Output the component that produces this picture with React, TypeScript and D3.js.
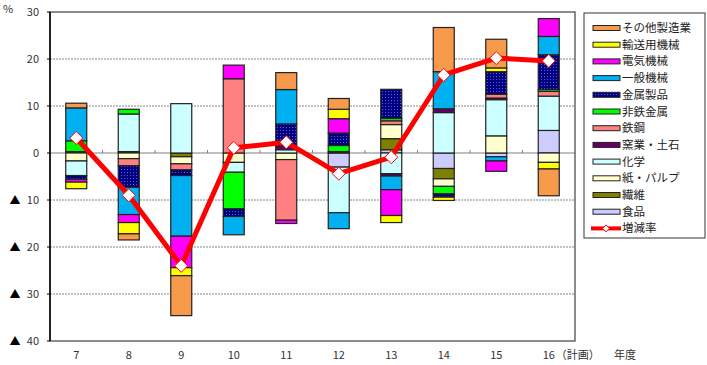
import React from 'react';
import * as d3 from 'd3';

const years = ['7', '8', '9', '10', '11', '12', '13', '14', '15', '16'];

// 寄与度 (%), 系列順 = 積み上げ順（食品が0に近い側）
const food = [0, 0, 0, 0, 0, -3.0, 0.7, -3.3, -0.8, 4.8];
const textile = [0.3, 0.3, -0.8, 0, 0, 0, 2.35, -2.2, 0, 0];
const paper = [-1.7, -1.2, -1.5, -2.0, -1.4, 0, 3.0, -1.6, 3.65, -2.0];
const chemical = [-3.1, 8.0, 10.5, -2.1, 0.7, -9.7, -4.4, 8.6, 7.7, 7.3];
const ceramic = [0, 0, 0, 0, 0.7, 0.3, -0.5, 0.8, 0.35, 0];
const steel = [0, -1.5, -1.3, 15.8, -12.9, 0, 0.8, 0, 0.8, 1.0];
const nonferrous = [2.3, 1.0, 0, -7.8, 0, 1.3, 0.5, -1.6, 0, 0.4];
const metal = [-0.8, -4.6, -1.2, -1.6, 4.8, 2.65, 6.2, -0.7, 4.8, 7.4];
const machinery = [7.0, -5.8, -12.9, -3.9, 7.3, -3.4, -2.9, 7.9, -0.9, 3.9];
const electrical = [-0.6, -1.7, -6.7, 2.9, -0.7, 3.05, -5.5, 0, -2.2, 3.8];
const transport = [-1.4, -2.4, -1.7, 0, 0, 2.0, -1.5, -0.7, 0.8, -1.4];
const other = [1.0, -1.3, -8.5, 0, 3.6, 2.3, 0, 9.4, 6.1, -5.7];

const growth = [3.2, -9.0, -24.0, 1.1, 2.3, -4.4, -0.9, 16.6, 20.2, 19.6];

const yTicks = [30, 20, 10, 0, -10, -20, -30, -40];

const series = [
  { name: '食品', values: food, color: '#CCCCFF' },
  { name: '繊維', values: textile, color: '#808000' },
  { name: '紙・パルプ', values: paper, color: '#FFFFCC' },
  { name: '化学', values: chemical, color: '#CCFFFF' },
  { name: '窯業・土石', values: ceramic, color: '#660066' },
  { name: '鉄鋼', values: steel, color: '#FF8080' },
  { name: '非鉄金属', values: nonferrous, color: '#00FF00' },
  { name: '金属製品', values: metal, color: 'url(#navyDots)' },
  { name: '一般機械', values: machinery, color: '#00B0F0' },
  { name: '電気機械', values: electrical, color: '#FF00FF' },
  { name: '輸送用機械', values: transport, color: '#FFFF00' },
  { name: 'その他製造業', values: other, color: '#F79A4C' },
];

const W = 707;
const H = 365;
const plot = { left: 50, right: 575, top: 12, bottom: 341 };
const font = '"Noto Sans CJK JP", "Noto Sans", sans-serif';

export default function App() {
  const x = d3.scaleBand<string>()
    .domain(years)
    .range([plot.left, plot.right])
    .paddingInner(0.6)
    .paddingOuter(0.3);

  const y = d3.scaleLinear().domain([-40, 30]).range([plot.bottom, plot.top]);

  // stack positive and negative separately
  const segments: { key: string; x: number; y0: number; y1: number; fill: string }[] = [];
  years.forEach((yr, i) => {
    let pos = 0;
    let neg = 0;
    series.forEach(s => {
      const v = s.values[i];
      if (!v) return;
      let a, b;
      if (v > 0) { a = pos; b = pos + v; pos = b; }
      else { a = neg; b = neg + v; neg = b; }
      segments.push({ key: `${s.name}-${yr}`, x: x(yr)!, y0: y(a), y1: y(b), fill: s.color });
    });
  });

  const step = x.step();
  const boundaries = d3.range(1, years.length).map(i => plot.left + i * step);

  const line = d3.line<number>()
    .x((_, i) => x(years[i])! + x.bandwidth() / 2)
    .y(d => y(d));

  const legendItems = [...series].reverse();
  const legendX = 584;
  const legendY = 13;
  const rowH = 16.7;

  const diamond = (cx: number, cy: number, r: number) =>
    `M${cx},${cy - r}L${cx + r},${cy}L${cx},${cy + r}L${cx - r},${cy}Z`;

  return (
    <svg width={W} height={H} style={{ position: 'absolute', left: 0, top: 0, fontFamily: font }}>
      <defs>
        <pattern id="navyDots" width="3" height="3" patternUnits="userSpaceOnUse">
          <rect width="3" height="3" fill="#000080" />
          <rect x="1" y="1" width="1" height="1" fill="#5A5AD8" />
        </pattern>
      </defs>
      <rect width={W} height={H} fill="#fff" />

      {/* gridlines */}
      {yTicks.filter(t => t !== 0 && t !== 30 && t !== -40).map(t => (
        <line key={t} x1={plot.left} x2={plot.right} y1={y(t)} y2={y(t)}
          stroke="#888" strokeWidth={1} strokeDasharray="2,1" />
      ))}
      <line x1={plot.left} x2={plot.right} y1={y(0)} y2={y(0)} stroke="#808080" strokeWidth={1} />
      {boundaries.map(bx => (
        <line key={bx} x1={bx} x2={bx} y1={y(0) - 3} y2={y(0)} stroke="#808080" />
      ))}

      {/* frame */}
      <rect x={plot.left} y={plot.top} width={plot.right - plot.left} height={plot.bottom - plot.top}
        fill="none" stroke="#404040" strokeWidth={1.2} />
      <line x1={plot.left} x2={plot.left} y1={plot.top} y2={plot.bottom} stroke="#000" strokeWidth={1.5} />
      {yTicks.map(t => (
        <line key={t} x1={plot.left - 3} x2={plot.left} y1={y(t)} y2={y(t)} stroke="#000" />
      ))}

      {/* bars */}
      {segments.map(s => (
        <rect key={s.key} x={s.x} width={x.bandwidth()} y={Math.min(s.y0, s.y1)}
          height={Math.abs(s.y1 - s.y0)} fill={s.fill} stroke="#222" strokeWidth={1.2} />
      ))}

      {/* growth rate */}
      <path d={line(growth) || ''} fill="none" stroke="#FF0000" strokeWidth={5} strokeLinejoin="round" />
      {growth.map((g, i) => (
        <path key={i} d={diamond(x(years[i])! + x.bandwidth() / 2, y(g), 6.5)}
          fill="#fff" stroke="#FF0000" strokeWidth={1} />
      ))}

      {/* y labels */}
      <text x={3} y={13} fontSize={11} fill="#333">%</text>
      {yTicks.map(t => (
        <g key={t}>
          <text x={39} y={y(t) + 4} fontSize={11} fill="#333" textAnchor="end">{Math.abs(t)}</text>
          {t < 0 && <text x={15} y={y(t) + 4} fontSize={11} fill="#000" textAnchor="middle">▲</text>}
        </g>
      ))}

      {/* x labels */}
      {years.map((yr, i) => (
        <text key={yr} x={x(yr)! + x.bandwidth() / 2} y={359} fontSize={11} fill="#333"
          textAnchor="middle">{yr}</text>
      ))}
      <text x={x('16')! + x.bandwidth() / 2 + 7} y={359} fontSize={11} fill="#333">（計画）</text>
      <text x={614} y={359} fontSize={11} fill="#333">年度</text>

      {/* legend */}
      <rect x={legendX} y={legendY} width={121} height={225} fill="#fff" stroke="#333" />
      {legendItems.map((s, i) => {
        const cy = legendY + 15 + i * rowH;
        return (
          <g key={s.name}>
            <rect x={593} y={cy - 2.5} width={27} height={5} fill={s.color} stroke="#222" strokeWidth={1} />
            <text x={622} y={cy + 4} fontSize={11.5} fill="#222">{s.name}</text>
          </g>
        );
      })}
      {(() => {
        const cy = legendY + 15 + legendItems.length * rowH;
        return (
          <g>
            <line x1={591} x2={621} y1={cy} y2={cy} stroke="#FF0000" strokeWidth={4} />
            <path d={diamond(606, cy, 3.5)} fill="#fff" stroke="#FF0000" strokeWidth={1} />
            <text x={622} y={cy + 4} fontSize={11.5} fill="#222">増減率</text>
          </g>
        );
      })()}
    </svg>
  );
}
